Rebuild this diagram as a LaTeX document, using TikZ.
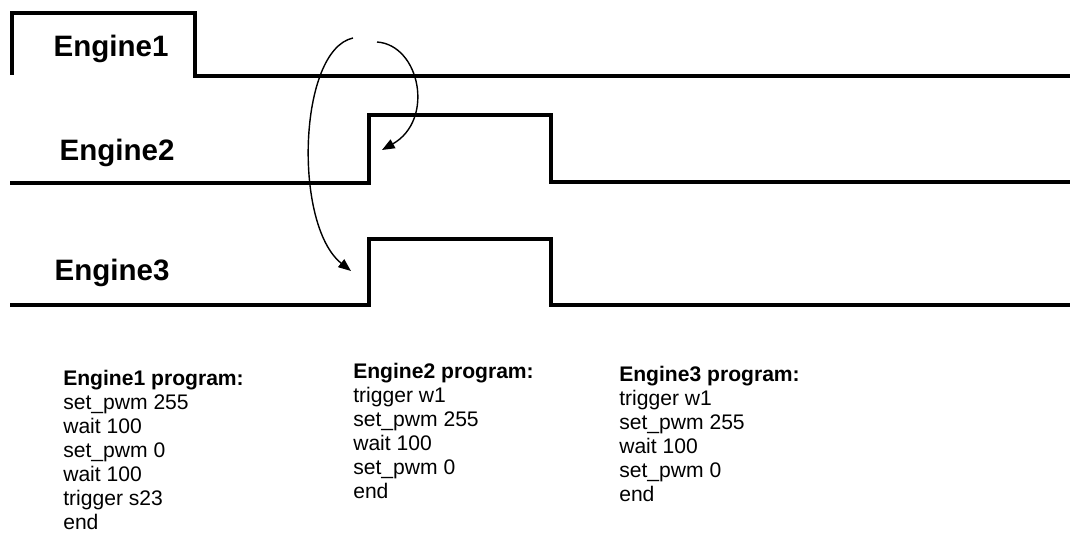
\documentclass[tikz,border=0pt]{standalone}
\usepackage{fontspec}
\setmainfont{Liberation Sans}
\usetikzlibrary{arrows.meta, positioning}

\begin{document}
\begin{tikzpicture}[
  x=0.025cm, y=-0.025cm,
  signal/.style={line width=2.3pt},
  trig/.style={line width=1pt, -{Triangle[length=9pt, width=7pt]}},
  engname/.style={font=\bfseries\fontsize{21}{24}\selectfont, inner sep=0pt},
  prog/.style={align=left, anchor=north west, inner sep=0pt,
               font=\fontsize{15}{17.1}\selectfont}
]
\useasboundingbox (0,0) rectangle (1070,537);

\draw[signal] (12,75) -- (12,13) -- (195,13) -- (195,76) -- (1070,76);
\draw[signal] (10,183) -- (369,183) -- (369,115) -- (551,115) -- (551,182) -- (1070,182);
\draw[signal] (10,305) -- (369,305) -- (369,239) -- (551,239) -- (551,305) -- (1070,305);

\node[engname] (eng1) at (111,49)  {Engine1};
\node[engname] (eng2) at (117,153) {Engine2};
\node[engname] (eng3) at (112,273) {Engine3};

\coordinate (src2) at (377,42);
\coordinate (src3) at (353,38);
\coordinate (rise2) at (382,150);
\coordinate (rise3) at (351,271);

\draw[trig] (src2) .. controls (420,45) and (435,120) .. (rise2);
\draw[trig] (src3) .. controls (298,50) and (293,225) .. (rise3);

\node[prog] (prog1) at (63,370)  {\textbf{Engine1 program:}\\set\_pwm 255\\wait 100\\set\_pwm 0\\wait 100\\trigger s23\\end};
\node[prog] (prog2) at (353,363) {\textbf{Engine2 program:}\\trigger w1\\set\_pwm 255\\wait 100\\set\_pwm 0\\end};
\node[prog] (prog3) at (619,366) {\textbf{Engine3 program:}\\trigger w1\\set\_pwm 255\\wait 100\\set\_pwm 0\\end};
\end{tikzpicture}
\end{document}
